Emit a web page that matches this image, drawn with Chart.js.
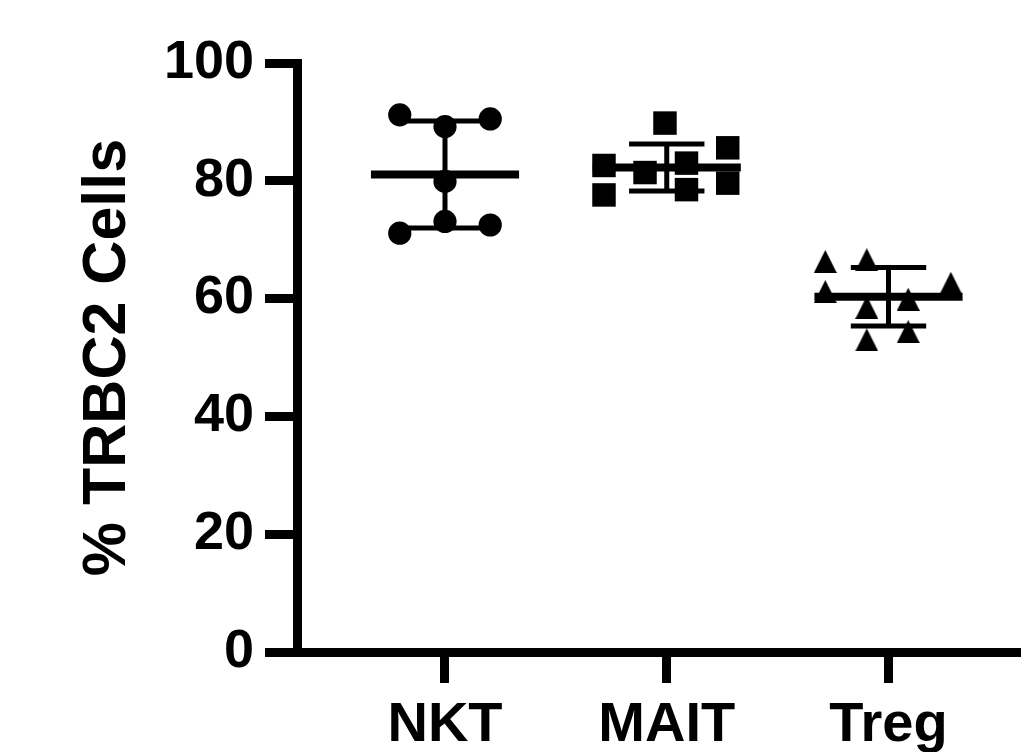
<!DOCTYPE html>
<html>
<head>
<meta charset="utf-8">
<script src="https://cdn.jsdelivr.net/npm/chart.js@4"></script>
<style>
  html, body { margin: 0; padding: 0; background: #fff; }
  canvas { display: block; }
</style>
</head>
<body>
<canvas id="c" width="1021" height="752"></canvas>
<script>
// ---- data ----
const categories = ['NKT', 'MAIT', 'Treg'];
const nktValues  = [91.2, 89.2, 90.5, 79.9, 73.1, 71.1, 72.5];
const maitValues = [89.8, 82.6, 77.6, 81.4, 83.0, 78.5, 85.6, 79.6];
const tregValues = [66.3, 66.6, 61.2, 62.6, 58.5, 59.9, 53.0, 54.4];
const yTickValues = [0, 20, 40, 60, 80, 100];
const yTitle = '% TRBC2 Cells';

// ---- layout (horizontal scatter spread of points, category units) ----
const nktSpread  = [-0.204, 0, 0.204, 0, 0, -0.204, 0.204];
const maitSpread = [-0.008, -0.283, -0.283, -0.098, 0.089, 0.089, 0.275, 0.275];
const tregSpread = [-0.285, -0.098, -0.285, 0.281, -0.098, 0.089, -0.098, 0.089];
const meanHalf = 0.334;
const capHalf = 0.17;

function stats(v) {
  const m = v.reduce((a, b) => a + b, 0) / v.length;
  const sd = Math.sqrt(v.reduce((a, b) => a + (b - m) * (b - m), 0) / (v.length - 1));
  return { m, sd };
}

function triangleImage(w, h) {
  const c = document.createElement('canvas');
  c.width = w; c.height = h;
  const g = c.getContext('2d');
  g.fillStyle = '#000';
  g.beginPath();
  g.moveTo(w / 2, 0);
  g.lineTo(w, h);
  g.lineTo(0, h);
  g.closePath();
  g.fill();
  return c;
}

const groups = [
  { values: nktValues,  spread: nktSpread,  style: 'circle', radius: 11.6 },
  { values: maitValues, spread: maitSpread, style: 'rect',   radius: 16.6 },
  { values: tregValues, spread: tregSpread, style: triangleImage(23, 23), radius: 12 }
];

const datasets = [];
groups.forEach((g, i) => {
  const c = i + 1;
  const { m, sd } = stats(g.values);
  const lineDs = (pts, w) => ({
    data: pts, showLine: true, borderColor: '#000', borderWidth: w,
    pointRadius: 0, pointHoverRadius: 0, fill: false, borderCapStyle: 'butt'
  });
  datasets.push(lineDs([{ x: c - meanHalf, y: m }, { x: c + meanHalf, y: m }], 8));
  datasets.push(lineDs([{ x: c - capHalf, y: m + sd }, { x: c + capHalf, y: m + sd }], 5));
  datasets.push(lineDs([{ x: c - capHalf, y: m - sd }, { x: c + capHalf, y: m - sd }], 5));
  datasets.push(lineDs([{ x: c, y: m + sd }, { x: c, y: m - sd }], 5));
  datasets.push({
    data: g.values.map((v, j) => ({ x: c + g.spread[j], y: v })),
    showLine: false,
    pointStyle: g.style,
    pointRadius: g.radius,
    pointHoverRadius: g.radius,
    backgroundColor: '#000',
    borderColor: '#000',
    borderWidth: 0
  });
});

Chart.defaults.font.family = '"Liberation Sans", Arial, sans-serif';
Chart.defaults.color = '#000';

new Chart(document.getElementById('c'), {
  type: 'scatter',
  data: { datasets },
  options: {
    responsive: false,
    animation: false,
    events: [],
    layout: { autoPadding: false, padding: { top: 63, left: 0, right: 0, bottom: 0 } },
    plugins: { legend: { display: false }, tooltip: { enabled: false } },
    scales: {
      x: {
        type: 'linear',
        min: 0.3326,
        max: 3.5975,
        afterBuildTicks: (s) => { s.ticks = categories.map((_, i) => ({ value: i + 1 })); },
        afterFit: (s) => { s.height = 100; s.paddingLeft = 0; s.paddingRight = 0; },
        ticks: {
          callback: (v) => categories[Math.round(v) - 1],
          font: { size: 56, weight: 'bold' },
          color: '#000',
          padding: 9,
          autoSkip: false,
          maxRotation: 0
        },
        grid: { drawOnChartArea: false, drawTicks: true, tickLength: 31, tickWidth: 9, tickColor: '#000' },
        border: { display: true, width: 9, color: '#000' }
      },
      y: {
        type: 'linear',
        min: 0,
        max: 100,
        afterBuildTicks: (s) => { s.ticks = yTickValues.map(v => ({ value: v })); },
        afterFit: (s) => { s.width = 297; },
        ticks: {
          font: { size: 54, weight: 'bold' },
          color: '#000',
          padding: 11
        },
        grid: { drawOnChartArea: false, drawTicks: true, tickLength: 32, tickWidth: 9, tickColor: '#000' },
        border: { display: true, width: 9, color: '#000' },
        title: {
          display: true,
          text: yTitle,
          font: { size: 61, weight: 'bold' },
          color: '#000',
          padding: { top: 72, bottom: 0 }
        }
      }
    }
  }
});
</script>
</body>
</html>
